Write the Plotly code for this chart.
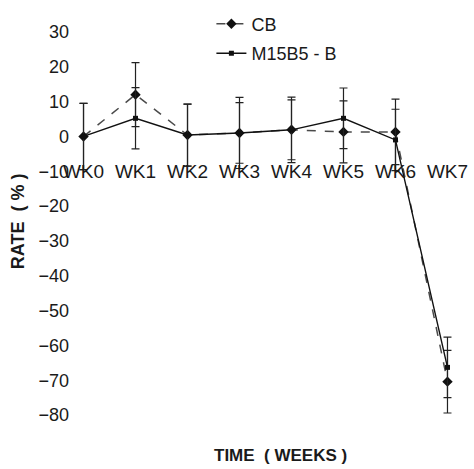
import plotly.graph_objects as go

weeks = ["WK0", "WK1", "WK2", "WK3", "WK4", "WK5", "WK6", "WK7"]
cb = [0, 12.0, 0.4, 1.0, 1.9, 1.3, 1.3, -70.4]
cb_err = [9.5, 9.2, 8.9, 10.2, 9.4, 8.9, 9.4, 9.0]
m15 = [0, 5.2, 0.4, 1.0, 1.9, 5.2, -1.0, -66.3]
m15_err = [9.5, 8.8, 8.9, 8.7, 8.6, 8.7, 8.8, 8.7]
y_ticks = [30, 20, 10, 0, -10, -20, -30, -40, -50, -60, -70, -80]

FONT = "Liberation Sans, Arial, sans-serif"
INK = "#1a1a1a"

fig = go.Figure()
fig.add_trace(go.Scatter(
    x=weeks, y=cb, name="CB", mode="lines+markers", legendgroup="a",
    line=dict(color="#4a4a4a", width=1.5, dash="dash"),
    marker=dict(symbol="diamond", size=8, color="#111"),
    error_y=dict(type="data", array=cb_err, visible=True, color="#222", thickness=1.2, width=4),
))
fig.add_trace(go.Scatter(
    x=weeks, y=m15, name="M15B5 - B", mode="lines+markers", legendgroup="b",
    line=dict(color="#111", width=1.4),
    marker=dict(symbol="square", size=5, color="#111"),
    error_y=dict(type="data", array=m15_err, visible=True, color="#222", thickness=1.2, width=4),
))

fig.update_layout(
    width=474, height=469,
    margin=dict(l=70, r=0, t=18, b=33),
    paper_bgcolor="white", plot_bgcolor="white",
    font=dict(family=FONT, color=INK),
    showlegend=True,
    legend=dict(x=0.35, y=1.0297, xanchor="left", yanchor="top",
                font=dict(size=18, color=INK), tracegroupgap=3,
                bgcolor="rgba(0,0,0,0)"),
    xaxis=dict(type="category", range=[-0.26, 7.51], anchor="free", position=0.666,
               showline=False, showgrid=False, zeroline=False, ticks="",
               tickfont=dict(size=19, color=INK)),
    yaxis=dict(range=[-86, 34], tickvals=y_ticks, showline=False, showgrid=False,
               zeroline=False, ticks="", tickfont=dict(size=18, color=INK)),
    annotations=[
        dict(text="<b>TIME  ( WEEKS )</b>", xref="paper", yref="paper", x=0.52, y=-0.0455,
             xanchor="center", yanchor="middle", showarrow=False, font=dict(size=17, color=INK)),
        dict(text="<b>RATE  ( % )</b>", xref="paper", yref="paper", x=-0.1287, y=0.514,
             xanchor="center", yanchor="middle", textangle=-90, showarrow=False,
             font=dict(size=18, color=INK)),
    ],
)

fig.write_html("out.html")
